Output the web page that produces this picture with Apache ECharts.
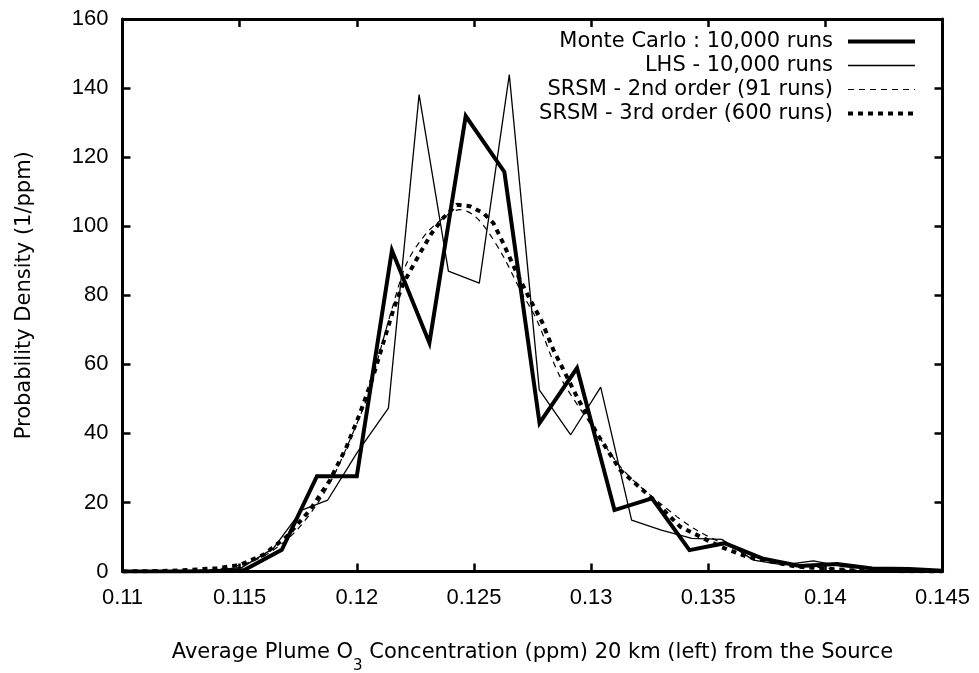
<!DOCTYPE html>
<html><head><meta charset="utf-8">
<script src="https://cdn.jsdelivr.net/npm/echarts@6/dist/echarts.min.js"></script>
<style>html,body{margin:0;padding:0;background:#fff}#c{width:979px;height:673px}</style>
</head><body><div id="c"></div>
<script>
const seriesNames = ['Monte Carlo : 10,000 runs', 'LHS - 10,000 runs', 'SRSM - 2nd order (91 runs)', 'SRSM - 3rd order (600 runs)'];

const mcX = [0.1100, 0.1121, 0.1137, 0.1152, 0.1168, 0.1183, 0.1200, 0.1215, 0.1231, 0.12465, 0.1263, 0.1278, 0.1294, 0.1310, 0.1326, 0.1342, 0.1357, 0.1373, 0.1389, 0.1405, 0.1420, 0.1436, 0.1450];
const mcY = [0, 0, 0.1, 0.4, 6.3, 27.6, 27.6, 93.0, 66.2, 131.9, 115.7, 43.0, 58.9, 17.8, 21.2, 6.2, 8.2, 3.8, 1.6, 2.2, 0.9, 0.7, 0.2];

const lhsX = [0.1100, 0.1125, 0.1138, 0.1151, 0.11644, 0.11765, 0.11876, 0.1200, 0.12135, 0.12266, 0.12391, 0.12523, 0.12651, 0.12779, 0.12913, 0.13041, 0.13173, 0.1330, 0.1343, 0.13558, 0.13693, 0.1382, 0.13949, 0.14077, 0.1421, 0.1434, 0.1450];
const lhsY = [0, 0.1, 0.3, 1.2, 6.7, 17.8, 20.7, 34.3, 47.3, 138.1, 87.0, 83.5, 143.9, 52.6, 39.6, 53.4, 14.9, 12.0, 9.6, 9.3, 3.3, 1.9, 3.1, 1.4, 0.6, 0.4, 0.2];

const s2X = [0.110, 0.112, 0.114, 0.1155, 0.1165, 0.11744, 0.1183, 0.119, 0.1197, 0.12042, 0.1210, 0.1215, 0.12213, 0.12298, 0.12398, 0.1244, 0.12497, 0.12554, 0.12625, 0.12697, 0.12768, 0.12867, 0.12995, 0.13137, 0.13294, 0.1345, 0.13664, 0.13878, 0.141, 0.143, 0.145];
const s2Y = [0, 0.1, 0.7, 2.8, 6.5, 12.0, 19.5, 27.5, 38.0, 50.0, 64.0, 76.0, 89.3, 98.0, 103.8, 104.8, 103.3, 99.0, 91.3, 81.6, 72.9, 56.5, 43.0, 29.4, 19.8, 12.0, 5.3, 1.9, 0.5, 0.1, 0];

const s3X = [0.110, 0.112, 0.11402, 0.11502, 0.11601, 0.11701, 0.118, 0.11886, 0.11957, 0.12014, 0.1207, 0.12113, 0.12156, 0.12199, 0.1227, 0.1232, 0.12369, 0.12427, 0.12483, 0.1254, 0.12583, 0.12625, 0.12683, 0.1274, 0.1279, 0.12839, 0.12939, 0.13024, 0.13124, 0.13252, 0.1338, 0.13551, 0.13664, 0.13878, 0.141, 0.143, 0.145];
const s3Y = [0, 0.2, 0.9, 1.9, 4.8, 10.1, 17.8, 26.5, 36.2, 45.9, 56.5, 66.2, 75.8, 83.5, 92.2, 98.0, 102.4, 106.2, 105.8, 103.8, 100.9, 95.1, 86.4, 78.7, 72.4, 64.2, 50.7, 40.1, 29.4, 21.7, 13.0, 7.2, 4.3, 1.4, 0.4, 0.1, 0];

const xMin = 0.11, xMax = 0.145, xStep = 0.005;
const yMin = 0, yMax = 160, yStep = 20;

function pairs(xs, ys) { return xs.map((x, i) => [x, ys[i]]); }

const FONT = 'DejaVu Sans';
const TICKFONT = 'Liberation Sans';
const chart = echarts.init(document.getElementById('c'), null, {renderer: 'canvas'});

const frameLine = {show: true, onZero: false, lineStyle: {color: '#000', width: 3}};
const tick = {show: true, inside: true, length: 8, lineStyle: {color: '#000', width: 2.5}};

chart.setOption({
  backgroundColor: '#fff',
  animation: false,
  grid: {left: 122.5, right: 36.5, top: 19, bottom: 101.5, containLabel: false, outerBoundsMode: 'none'},
  legend: {
    orient: 'vertical', right: 57, top: 26, align: 'right',
    itemWidth: 67, itemHeight: 14, itemGap: 3,
    itemStyle: {opacity: 0},
    lineStyle: {width: 'inherit'},
    textStyle: {fontFamily: FONT, fontSize: 21, color: '#000', padding: [0, 10, 0, 0]},
    data: seriesNames
  },
  xAxis: [{
    type: 'value', position: 'bottom', min: xMin, max: xMax, interval: xStep,
    axisLine: frameLine, axisTick: tick, splitLine: {show: false},
    axisLabel: {fontFamily: TICKFONT, fontSize: 22, color: '#000', margin: 15,
      formatter: v => String(+(+v).toFixed(3))},
    name: '{a|Average Plume O}{s|3}{a| Concentration (ppm) 20 km (left) from the Source}',
    nameLocation: 'middle', nameGap: 60,
    nameTextStyle: {color: '#000', rich: {
      a: {fontFamily: FONT, fontSize: 21, color: '#000', lineHeight: 42, verticalAlign: 'middle'},
      s: {fontFamily: FONT, fontSize: 15, color: '#000', lineHeight: 15, verticalAlign: 'bottom'}
    }}
  }, {
    type: 'value', position: 'top', min: xMin, max: xMax, interval: xStep,
    axisLine: frameLine, axisTick: tick, splitLine: {show: false}, axisLabel: {show: false}
  }],
  yAxis: [{
    type: 'value', position: 'left', min: yMin, max: yMax, interval: yStep,
    axisLine: frameLine, axisTick: tick, splitLine: {show: false},
    axisLabel: {fontFamily: TICKFONT, fontSize: 22, color: '#000', margin: 14},
    name: 'Probability Density (1/ppm)', nameLocation: 'middle', nameGap: 87, nameRotate: 90,
    nameTextStyle: {fontFamily: FONT, fontSize: 21, color: '#000'}
  }, {
    type: 'value', position: 'right', min: yMin, max: yMax, interval: yStep,
    axisLine: frameLine, axisTick: tick, splitLine: {show: false}, axisLabel: {show: false}
  }],
  series: [
    {name: seriesNames[0], type: 'line', data: pairs(mcX, mcY), symbol: 'none', z: 5,
     lineStyle: {color: '#000', width: 4, join: 'miter'}, itemStyle: {color: '#000'}},
    {name: seriesNames[1], type: 'line', data: pairs(lhsX, lhsY), symbol: 'none', z: 4,
     lineStyle: {color: '#000', width: 1.3}, itemStyle: {color: '#000'}},
    {name: seriesNames[2], type: 'line', data: pairs(s2X, s2Y), symbol: 'none', z: 3, smooth: 0.3,
     lineStyle: {color: '#000', width: 1.2, type: [6, 5]}, itemStyle: {color: '#000'}},
    {name: seriesNames[3], type: 'line', data: pairs(s3X, s3Y), symbol: 'none', z: 3,
     lineStyle: {color: '#000', width: 4, type: [5, 5], cap: 'butt'}, itemStyle: {color: '#000'}}
  ]
});
</script>
</body></html>
